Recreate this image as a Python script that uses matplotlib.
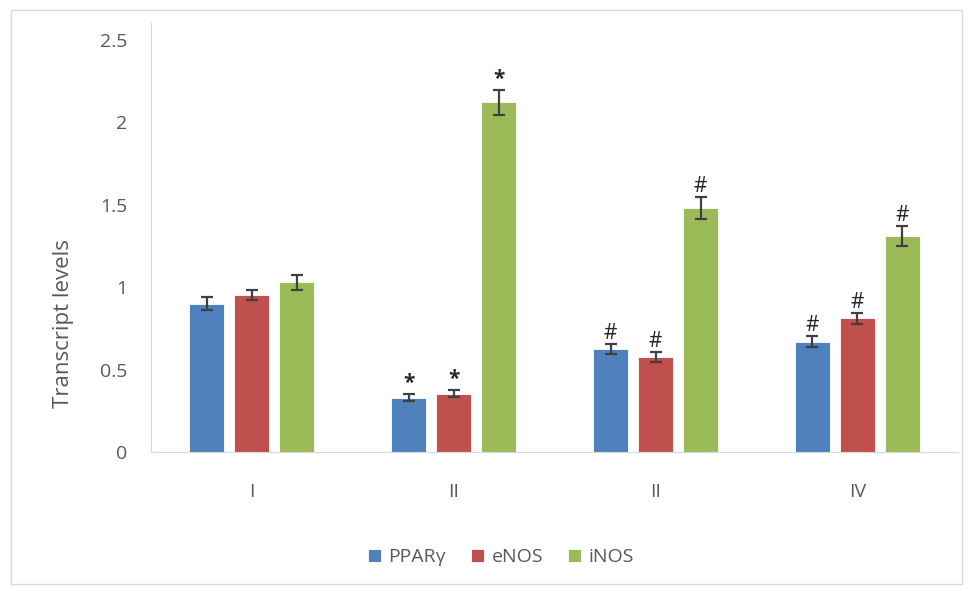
import matplotlib.pyplot as plt
import numpy as np
from matplotlib.patches import Rectangle

groups = ["I", "II", "II", "IV"]
series = ["PPARγ", "eNOS", "iNOS"]
ppar = [0.90, 0.33, 0.625, 0.67]
enos = [0.95, 0.355, 0.577, 0.81]
inos = [1.03, 2.12, 1.48, 1.31]
ppar_err = [0.04, 0.02, 0.03, 0.035]
enos_err = [0.03, 0.02, 0.03, 0.035]
inos_err = [0.045, 0.075, 0.065, 0.06]
marks = [["", "*", "#", "#"], ["", "*", "#", "#"], ["", "*", "#", "#"]]
colors = ["#4F81BD", "#C0504D", "#9BBB59"]

plt.rcParams["font.family"] = ["Open Sans", "DejaVu Sans"]

fig = plt.figure(figsize=(9.73, 5.91), dpi=100)
ax = fig.add_axes([0.155, 0.235, 0.830, 0.726])

x = np.arange(len(groups))
width = 0.173
step = 0.223
values = [ppar, enos, inos]
errors = [ppar_err, enos_err, inos_err]
for i, (vals, errs, col, name) in enumerate(zip(values, errors, colors, series)):
    pos = x + (i - 1) * step
    ax.bar(pos, vals, width, color=col, label=name, edgecolor="white", linewidth=0.6)
    ax.errorbar(pos, vals, yerr=errs, fmt="none", ecolor="#404040",
                elinewidth=1.6, capsize=4.5, capthick=1.6)
    for xp, v, e, m in zip(pos, vals, errs, marks[i]):
        if m:
            ax.annotate(m, (xp, v + e), xytext=(0, 0), textcoords="offset points",
                        ha="center", va="bottom", fontsize=15, color="#262626",
                        fontweight="bold" if m == "*" else "normal")

ax.set_xlim(-0.5, 3.5)
ax.set_ylim(0, 2.6)
ax.set_yticks([0, 0.5, 1, 1.5, 2, 2.5])
ax.set_yticklabels(["0", "0.5", "1", "1.5", "2", "2.5"])
ax.set_xticks(x)
ax.set_xticklabels(groups)
ax.tick_params(axis="y", length=0, pad=17, labelsize=14, labelcolor="#595959")
ax.tick_params(axis="x", length=0, pad=22, labelsize=14, labelcolor="#595959")
for s in ["top", "right"]:
    ax.spines[s].set_visible(False)
ax.spines["left"].set_color("#D9D9D9")
ax.spines["bottom"].set_color("#D9D9D9")
ax.set_ylabel("Transcript levels", fontsize=16, color="#595959")
ax.yaxis.set_label_coords(-0.095, 0.30)

leg = fig.legend(loc="center", bbox_to_anchor=(0.515, 0.057), ncol=3, frameon=False,
                 fontsize=14, handlelength=0.65, handleheight=0.65, columnspacing=1.3,
                 handletextpad=0.4)
for t in leg.get_texts():
    t.set_color("#595959")

fig.patches.append(Rectangle((0.011, 0.011), 0.978, 0.972, transform=fig.transFigure,
                             fill=False, edgecolor="#D9D9D9", linewidth=1))

fig.savefig("out.png", dpi=100)
